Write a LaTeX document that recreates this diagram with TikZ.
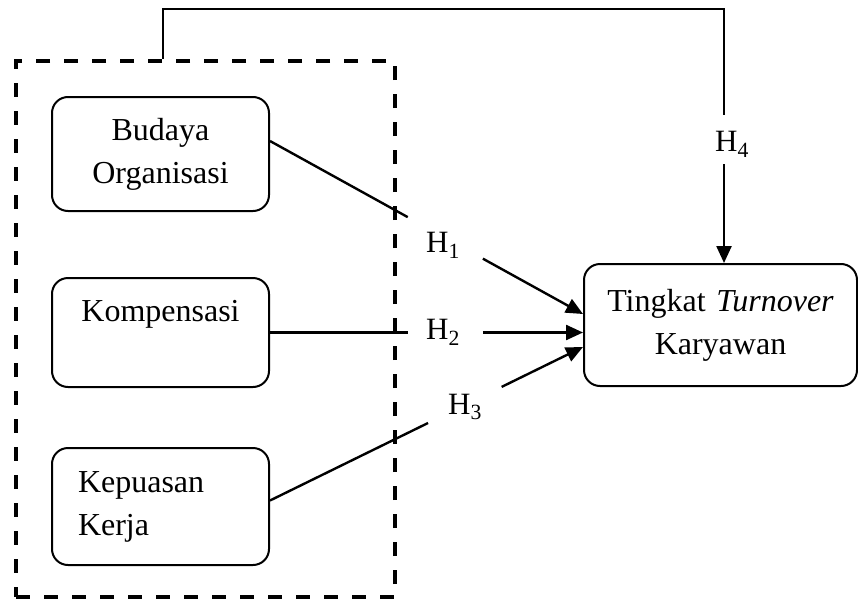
\documentclass[tikz,border=0pt]{standalone}
\usepackage{fontspec}
\setmainfont{Liberation Serif}
\usetikzlibrary{arrows.meta}

\begin{document}
\begin{tikzpicture}[x=1pt,y=-1pt,
  kotak/.style={draw,line width=2pt,rounded corners=16pt,text width=165pt,inner xsep=26pt,align=center,font=\fontsize{32}{43}\selectfont},
  garis/.style={line width=2.4pt},
  panah/.style={line width=2.4pt,-{Triangle[length=17pt,width=15pt]}},
  hip/.style={inner sep=0pt,font=\fontsize{31}{36}\selectfont}]

\useasboundingbox (0,0) rectangle (858,602);

%kelompok variabel bebas
\node[draw,line width=4pt,dash pattern=on 14pt off 14pt,minimum width=379pt,minimum height=536pt] (grup) at (205.5,329) {};

\node[kotak,minimum height=114pt] (budaya) at (160.5,154) {Budaya\\Organisasi};
\node[kotak,minimum height=109pt] (kompensasi) at (160.5,332.5) {Kompensasi\\\mbox{}};
\node[kotak,minimum height=117pt,align=left] (kepuasan) at (160.5,506.5) {Kepuasan\\Kerja};

\node[kotak,text width=240pt,inner xsep=16.5pt,minimum height=122pt] (tingkat) at (720.5,325) {Tingkat \textit{Turnover}\\Karyawan};

%H1
\path ([yshift=13pt]budaya.east) -- coordinate[pos=0.44] (h1a) coordinate[pos=0.68] (h1b) ([yshift=11pt]tingkat.west);
\draw[garis] ([yshift=13pt]budaya.east) -- (h1a);
\draw[panah] (h1b) -- ([yshift=11pt]tingkat.west);
\node[hip] (h1) at (443,245) {H\textsubscript{1}};

%H2
\path (kompensasi.east) -- coordinate[pos=0.44] (h2a) coordinate[pos=0.68] (h2b) (kompensasi.east -| tingkat.west);
\draw[garis] (kompensasi.east) -- (h2a);
\draw[panah] (h2b) -- (kompensasi.east -| tingkat.west);
\node[hip] (h2) at (443,332) {H\textsubscript{2}};

%H3
\path ([yshift=6pt]kepuasan.east) -- coordinate[pos=0.505] (h3a) coordinate[pos=0.74] (h3b) ([yshift=-22pt]tingkat.west);
\draw[garis] ([yshift=6pt]kepuasan.east) -- (h3a);
\draw[panah] (h3b) -- ([yshift=-22pt]tingkat.west);
\node[hip] (h3) at (465,407) {H\textsubscript{3}};

%H4
\coordinate (kiri) at (163,9);
\coordinate (kanan) at (724,9);
\coordinate (h4a) at (724,115);
\coordinate (h4b) at (724,164);
\draw[garis] (grup.north -| kiri) -- (kiri) -- (kanan) -- (h4a);
\draw[panah] (h4b) -- (h4b |- tingkat.north);
\node[hip] (h4) at (732,144) {H\textsubscript{4}};

\end{tikzpicture}
\end{document}
